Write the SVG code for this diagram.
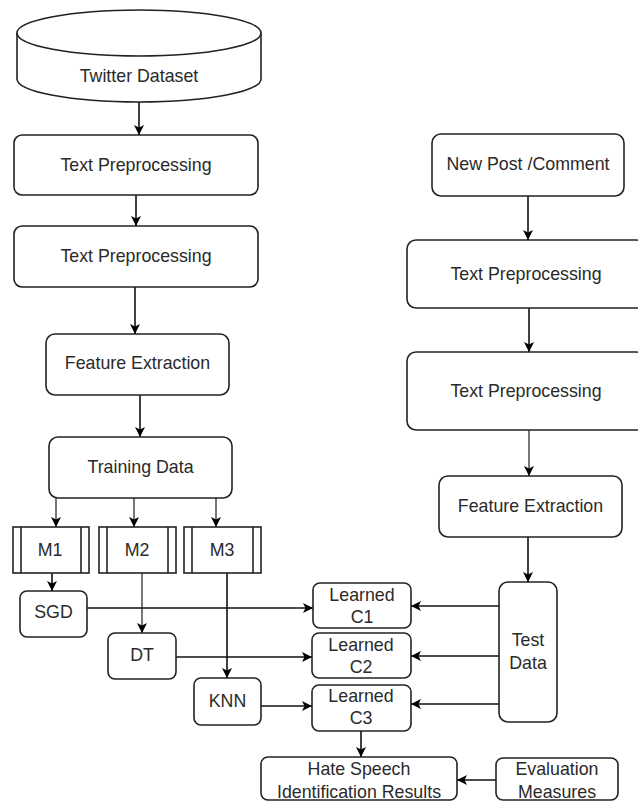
<svg xmlns="http://www.w3.org/2000/svg" width="638" height="802" viewBox="0 0 638 802">
<defs>
<marker id="ah" markerUnits="userSpaceOnUse" markerWidth="12" markerHeight="12" viewBox="0 0 12 12" refX="11" refY="6" orient="auto">
<path d="M1,1 L11,6 L1,11 L3.5,6 Z" fill="#000"/>
</marker>
<style>
.box{fill:#fff;stroke:#222;stroke-width:1.6}
.t{font-family:"Liberation Sans",Arial,sans-serif;font-size:17.8px;fill:#2a2a2a;text-anchor:middle;dominant-baseline:central}
.c{fill:none;stroke:#111;stroke-width:1.6;marker-end:url(#ah)}
.g{stroke:#555}
</style>
</defs>
<rect width="638" height="802" fill="#fff"/>

<g id="connectors">
<path class="c" d="M139,102 L139,135"/>
<path class="c" d="M136,195 L136,226"/>
<path class="c" d="M135,287 L135,334"/>
<path class="c" d="M140,395 L140,437"/>
<path class="c g" d="M56,498 L56,527"/>
<path class="c g" d="M134,498 L134,527"/>
<path class="c g" d="M216,498 L216,527"/>
<path class="c" d="M52,573 L52,591"/>
<path class="c g" d="M142,573 L142,633"/>
<path class="c" d="M227,573 L227,678"/>
<path class="c" d="M87,608 L313,608"/>
<path class="c" d="M176,657 L312,657"/>
<path class="c" d="M261,706 L312,706"/>
<path class="c" d="M499,606 L411,606"/>
<path class="c" d="M499,656 L411,656"/>
<path class="c" d="M499,704 L411,704"/>
<path class="c" d="M528,196 L528,240"/>
<path class="c" d="M529,308 L529,352"/>
<path class="c g" d="M529,430 L529,476"/>
<path class="c" d="M528,537 L528,582"/>
<path class="c" d="M361,731 L361,757"/>
<path class="c" d="M496,780 L457,780"/>
</g>

<g id="twitter-dataset">
<path class="box" d="M17,33 A122,23 0 0 1 261,33 L261,79 A122,23 0 0 1 17,79 Z"/>
<path class="box" style="fill:none" d="M17,33 A122,23 0 0 0 261,33"/>
<text class="t" x="139" y="76">Twitter Dataset</text>
</g>
<g id="text-prep-1">
<rect class="box" x="14" y="135" width="244" height="60" rx="8"/>
<text class="t" x="136" y="165">Text Preprocessing</text>
</g>
<g id="text-prep-2">
<rect class="box" x="14" y="226" width="244" height="61" rx="8"/>
<text class="t" x="136" y="256">Text Preprocessing</text>
</g>
<g id="feature-extraction-1">
<rect class="box" x="46" y="334" width="183" height="61" rx="9"/>
<text class="t" x="137.5" y="363">Feature Extraction</text>
</g>
<g id="training-data">
<rect class="box" x="49" y="437" width="183" height="61" rx="9"/>
<text class="t" x="140.5" y="467">Training Data</text>
</g>
<g id="m1">
<rect class="box" x="13" y="527" width="76" height="46"/>
<path class="box" d="M21,527 L21,573 M81,527 L81,573"/>
<text class="t" x="50" y="550">M1</text>
</g>
<g id="m2">
<rect class="box" x="99" y="527" width="77" height="46"/>
<path class="box" d="M107,527 L107,573 M168,527 L168,573"/>
<text class="t" x="137" y="550">M2</text>
</g>
<g id="m3">
<rect class="box" x="184" y="527" width="77" height="46"/>
<path class="box" d="M192,527 L192,573 M253,527 L253,573"/>
<text class="t" x="222" y="550">M3</text>
</g>
<g id="sgd">
<rect class="box" x="20" y="591" width="67" height="46" rx="7"/>
<text class="t" x="53.5" y="612">SGD</text>
</g>
<g id="dt">
<rect class="box" x="108" y="633" width="68" height="46" rx="7"/>
<text class="t" x="142" y="655">DT</text>
</g>
<g id="knn">
<rect class="box" x="194" y="678" width="67" height="47" rx="7"/>
<text class="t" x="227.5" y="701">KNN</text>
</g>
<g id="learned-c1">
<rect class="box" x="313" y="583" width="98" height="45" rx="7"/>
<text class="t" x="362" y="595">Learned</text>
<text class="t" x="362" y="617">C1</text>
</g>
<g id="learned-c2">
<rect class="box" x="312" y="633" width="99" height="45" rx="7"/>
<text class="t" x="361" y="645">Learned</text>
<text class="t" x="361" y="667">C2</text>
</g>
<g id="learned-c3">
<rect class="box" x="312" y="685" width="99" height="46" rx="7"/>
<text class="t" x="361" y="696">Learned</text>
<text class="t" x="361" y="718">C3</text>
</g>
<g id="test-data">
<rect class="box" x="499" y="582" width="58" height="140" rx="9"/>
<text class="t" x="528" y="640">Test</text>
<text class="t" x="528" y="663">Data</text>
</g>
<g id="hate-speech-results">
<rect class="box" x="261" y="757" width="196" height="43" rx="7"/>
<text class="t" x="359" y="769">Hate Speech</text>
<text class="t" x="359" y="792">Identification Results</text>
</g>
<g id="evaluation-measures">
<rect class="box" x="496" y="758" width="122" height="42" rx="7"/>
<text class="t" x="557" y="769">Evaluation</text>
<text class="t" x="557" y="792">Measures</text>
</g>
<g id="new-post">
<rect class="box" x="432" y="134" width="192" height="62" rx="9"/>
<text class="t" x="528" y="164">New Post /Comment</text>
</g>
<g id="text-prep-r1">
<rect class="box" x="407" y="240" width="238" height="68" rx="9"/>
<text class="t" x="526" y="274">Text Preprocessing</text>
</g>
<g id="text-prep-r2">
<rect class="box" x="407" y="352" width="238" height="78" rx="9"/>
<text class="t" x="526" y="391">Text Preprocessing</text>
</g>
<g id="feature-extraction-2">
<rect class="box" x="439" y="476" width="183" height="61" rx="9"/>
<text class="t" x="530.5" y="506">Feature Extraction</text>
</g>
</svg>
